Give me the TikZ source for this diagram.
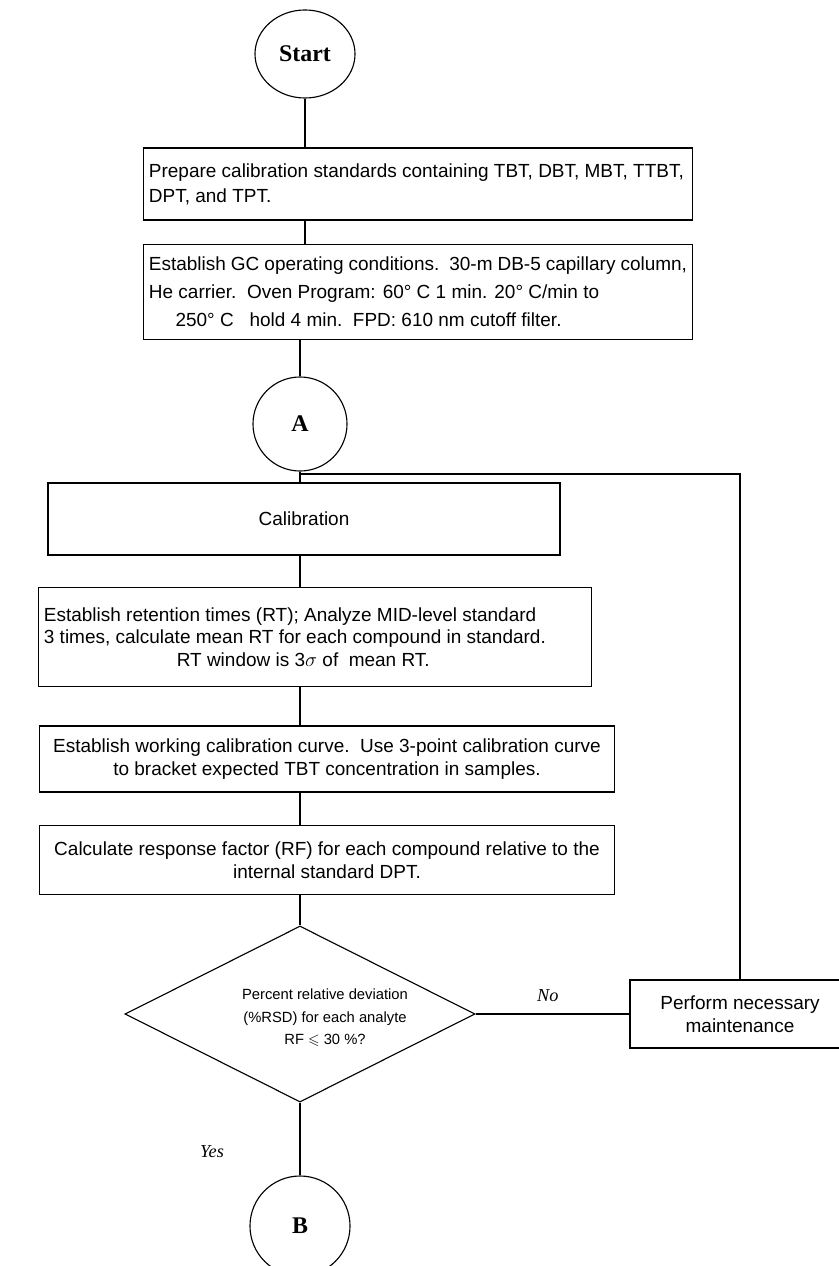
\documentclass[tikz,border=0pt]{standalone}
\usepackage{fontspec}
\usepackage{amssymb}
\setmainfont{Liberation Sans}
\newfontfamily\serifletters{Liberation Serif}
\usetikzlibrary{shapes.geometric,positioning}

\begin{document}
\begin{tikzpicture}[x=0.025cm,y=-0.025cm,
	box/.style={draw,rectangle,line width=0.9pt,inner sep=2pt,inner xsep=4pt,font=\fontsize{13.5}{16}\selectfont},
	conn/.style={draw,circle,line width=0.8pt,font=\serifletters\bfseries\fontsize{17}{19}\selectfont},
	link/.style={line width=0.8pt},
	answer/.style={font=\serifletters\itshape\fontsize{13}{15}\selectfont}]
	\useasboundingbox (0,0) rectangle (838,1266);
	
	% Inizio
	\node[conn,ellipse,minimum width=2.5cm,minimum height=2.2cm] (start) at (305,54) {Start};
	
	% Preparazione
	\node[box,align=flush left,text width=13.45cm,minimum height=1.8cm,font=\fontsize{13.5}{18}\selectfont] (prep) at (418,184)
		{Prepare calibration standards containing TBT, DBT, MBT, TTBT,\\DPT, and TPT.};
	\node[box,align=flush left,text width=13.45cm,minimum height=2.375cm,font=\fontsize{13.5}{20}\selectfont] (gc) at (418,292)
		{Establish GC operating conditions.\ \ 30-m DB-5 capillary column,\\
		He carrier.\ \ Oven Program: 60° C 1 min. 20° C/min to\\
		\hspace*{1.4em}250° C\ \ \ hold 4 min.\ \ FPD: 610 nm cutoff filter.};
	
	% Connettore A
	\node[conn,minimum size=2.35cm] (conA) at (300,424) {A};
	\coordinate (ritorno) at (300,474);
	
	% Calibrazione
	\node[box,minimum width=12.8cm,minimum height=1.8cm] (cal) at (304,519) {Calibration};
	\node[box,align=flush left,text width=13.55cm,minimum height=2.475cm] (rt) at (315,637)
		{Establish retention times (RT); Analyze MID-level standard\\
		3 times, calculate mean RT for each compound in standard.\\
		\hspace*{7em}RT window is 3$\sigma$ of\ \ mean RT.};
	\node[box,align=center,minimum width=14.375cm,minimum height=1.65cm] (curve) at (327,759)
		{Establish working calibration curve.\ \ Use 3-point calibration curve\\
		to bracket expected TBT concentration in samples.};
	\node[box,align=center,minimum width=14.375cm,minimum height=1.725cm] (rf) at (327,860)
		{Calculate response factor (RF) for each compound relative to the\\
		internal standard DPT.};
	
	% Decisione
	\node[draw,diamond,line width=0.8pt,minimum width=8.75cm,minimum height=4.4cm,inner sep=0pt] (check) at (300,1014) {};
	\node[align=center,font=\fontsize{10.5}{16}\selectfont] (checktext) at (325,1018)
		{Percent relative deviation\\(\%RSD) for each analyte\\RF $\leqslant$ 30 \%?};
	\node[box,align=center,minimum width=5.5cm,minimum height=1.7cm] (maint) at (740,1014)
		{Perform necessary\\maintenance};
	
	% Connettore B
	\node[conn,minimum size=2.5cm] (conB) at (300,1226) {B};
	
	% Collegamenti
	\draw[link] (start.south) -- (start.south |- prep.north);
	\draw[link] (start.south |- prep.south) -- (start.south |- gc.north);
	\draw[link] (conA.north |- gc.south) -- (conA.north);
	\draw[link] (conA.south) -- (conA.south |- cal.north);
	\draw[link] (maint.north) |- (ritorno);
	\draw[link] (conA.south |- cal.south) -- (conA.south |- rt.north);
	\draw[link] (conA.south |- rt.south) -- (conA.south |- curve.north);
	\draw[link] (conA.south |- curve.south) -- (conA.south |- rf.north);
	\draw[link] (check.north |- rf.south) -- (check.north);
	\draw[link] (check.east) -- (maint.west) node[answer,pos=0.47,above=5pt] {No};
	\draw[link] (check.south) -- (conB.north);
	\node[answer] (yes) at (212,1152) {Yes};
	
\end{tikzpicture}
\end{document}
